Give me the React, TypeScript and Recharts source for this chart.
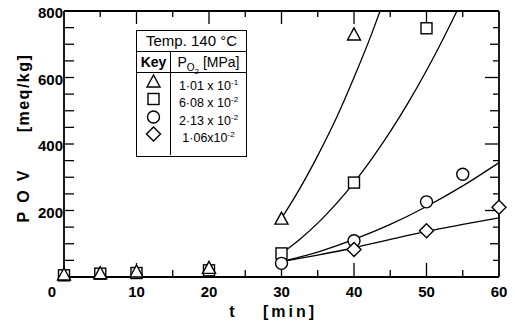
import { ComposedChart, Line, Scatter, XAxis, YAxis } from 'recharts';

const FONT = '"Liberation Sans", Arial, sans-serif';

const xTicks = [0, 10, 20, 30, 40, 50, 60];
const yLabels = [200, 400, 600, 800];
// positions of the small inward ticks on the frame
const xTickPos = [5, 10, 15, 20, 25, 30, 35, 40, 45, 50, 55];
const yTickPos = [50, 100, 150, 200, 250, 300, 350, 400, 450, 500, 550, 600, 650, 700, 750];

// measured points, POV [meq/kg] vs t [min]
const triangle = [
  { t: 0, v: 6 }, { t: 5, v: 10 }, { t: 10, v: 15 }, { t: 20, v: 26 },
  { t: 30, v: 174 }, { t: 40, v: 728 },
];
const square = [
  { t: 0, v: 5 }, { t: 5, v: 10 }, { t: 10, v: 12 }, { t: 20, v: 20 },
  { t: 30, v: 71 }, { t: 40, v: 284 }, { t: 50, v: 748 },
];
const circle = [
  { t: 30, v: 41 }, { t: 40, v: 109 }, { t: 50, v: 226 }, { t: 55, v: 309 },
];
const diamond = [
  { t: 40, v: 83 }, { t: 50, v: 139 }, { t: 60, v: 210 },
];

// drawn-in curves (the two steep ones leave the frame at the top)
const curveTri = [
  { t: 30, v: 176 }, { t: 32.5, v: 265 }, { t: 35, v: 365 }, { t: 37.5, v: 475 },
  { t: 40, v: 600 }, { t: 42.5, v: 735 }, { t: 43.6, v: 800 },
];
const curveSq = [
  { t: 30, v: 71 }, { t: 32.5, v: 113 }, { t: 35, v: 162 }, { t: 37.5, v: 219 },
  { t: 40, v: 284 }, { t: 42.5, v: 357 }, { t: 45, v: 437 }, { t: 47.5, v: 525 },
  { t: 50, v: 621 }, { t: 52.5, v: 725 }, { t: 54.2, v: 800 },
];
const curveCirc = [
  { t: 30, v: 46 }, { t: 35, v: 75 }, { t: 40, v: 113 }, { t: 45, v: 158 },
  { t: 50, v: 212 }, { t: 55, v: 274 }, { t: 60, v: 344 },
];
const curveDia = [
  { t: 30, v: 46 }, { t: 35, v: 66 }, { t: 40, v: 88 }, { t: 45, v: 113 },
  { t: 50, v: 137 }, { t: 55, v: 158 }, { t: 60, v: 178 },
];

const keyRows = [
  { shape: 'triangle', mant: '1·01 x 10', exp: '-1' },
  { shape: 'square', mant: '6·08 x 10', exp: '-2' },
  { shape: 'circle', mant: '2·13 x 10', exp: '-2' },
  { shape: 'diamond', mant: '1·06x10', exp: '-2' },
];

const X_MAX = 60;
const Y_MAX = 800;
// axis units per screen pixel, used only for the tick-mark lengths
const PX_Y = Y_MAX / 266;
const PX_X = X_MAX / 435;

const frameTop = [{ t: 0, v: Y_MAX }, { t: X_MAX, v: Y_MAX }];
const frameRight = [{ t: X_MAX, v: Y_MAX }, { t: X_MAX, v: 0 }];

// every tick mark is its own two-point segment
const tickSegs: { id: string; pts: { t: number; v: number }[] }[] = [];
xTickPos.forEach(t => {
  const major = t % 10 === 0;
  tickSegs.push({ id: `b${t}`, pts: [{ t, v: 0 }, { t, v: (major ? 14 : 7) * PX_Y }] });
  tickSegs.push({ id: `t${t}`, pts: [{ t, v: Y_MAX }, { t, v: Y_MAX - (major ? 13 : 6) * PX_Y }] });
});
yTickPos.forEach(v => {
  const len = v % 200 === 0 ? 14 : v % 100 === 0 ? 9 : 6;
  tickSegs.push({ id: `l${v}`, pts: [{ t: 0, v }, { t: 10 * PX_X, v }] });
  tickSegs.push({ id: `r${v}`, pts: [{ t: X_MAX, v }, { t: X_MAX - len * PX_X, v }] });
});

const mark = (kind: string, cx: number, cy: number) => {
  const p = { fill: '#fff', stroke: '#000', strokeWidth: 1.4 };
  if (kind === 'triangle')
    return <polygon {...p} points={`${cx},${cy - 7} ${cx - 6.5},${cy + 5} ${cx + 6.5},${cy + 5}`} />;
  if (kind === 'square') return <rect {...p} x={cx - 5.5} y={cy - 5.5} width={11} height={11} />;
  if (kind === 'circle') return <circle {...p} cx={cx} cy={cy} r={6} />;
  return <polygon {...p} points={`${cx},${cy - 7} ${cx + 7},${cy} ${cx},${cy + 7} ${cx - 7},${cy}`} />;
};

const shapeOf = (kind: string) => (props: any) => mark(kind, props.cx, props.cy);

const txt = { fontFamily: FONT, fontSize: 15, fontWeight: 'bold' as const, fill: '#000' };

const BottomTick = (props: any) => {
  const { x, y, payload } = props;
  const v = payload.value;
  return (
    <text {...txt} x={v === 0 ? x - 12 : x} y={y + 20} textAnchor="middle">
      {v}
    </text>
  );
};

const LeftTick = (props: any) => {
  const { x, y, payload } = props;
  return (
    <text {...txt} x={x - 1} y={y + 2} dy="0.35em" textAnchor="end">
      {payload.value}
    </text>
  );
};

const KeyTable = () => {
  const cell = { borderRight: '1.5px solid #000', width: 33, display: 'flex', alignItems: 'center', justifyContent: 'center' } as const;
  return (
    <div
      style={{
        position: 'absolute', left: 136, top: 30, width: 111, height: 127, boxSizing: 'border-box',
        border: '1.5px solid #000', fontFamily: FONT, fontSize: 15, color: '#000', background: '#fff',
      }}
    >
      <div style={{ height: 20, borderBottom: '1.5px solid #000', textAlign: 'center', lineHeight: '20px' }}>
        Temp. 140 °C
      </div>
      <div style={{ height: 20, borderBottom: '1.5px solid #000', display: 'flex' }}>
        <div style={{ ...cell, fontWeight: 'bold', fontSize: 14 }}>Key</div>
        <div style={{ flex: 1, textAlign: 'center', lineHeight: '20px', fontSize: 14 }}>
          P<sub style={{ fontSize: 10 }}>O<sub style={{ fontSize: 8 }}>2</sub></sub> [MPa]
        </div>
      </div>
      <div style={{ display: 'flex', height: 82 }}>
        <div style={{ ...cell, flexDirection: 'column', justifyContent: 'flex-start' }}>
          {keyRows.map(r => (
            <svg key={r.shape} width={33} height={17.3}>
              {mark(r.shape, 16.5, 9)}
            </svg>
          ))}
        </div>
        <div style={{ flex: 1 }}>
          {keyRows.map(r => (
            <div key={r.shape} style={{ height: 17.3, lineHeight: '19px', textAlign: 'center', fontSize: 12.5 }}>
              {r.mant}
              <sup style={{ fontSize: 8 }}>{r.exp}</sup>
            </div>
          ))}
        </div>
      </div>
    </div>
  );
};

const series = { xAxisId: 'b', yAxisId: 'l', isAnimationActive: false };

export default function App() {
  return (
    <div style={{ position: 'absolute', left: 0, top: 0, width: 515, height: 322, background: '#fff' }}>
      <ComposedChart width={515} height={322} margin={{ top: 11, right: 16, left: 14, bottom: 15 }}>
        <XAxis
          xAxisId="b"
          dataKey="t"
          type="number"
          domain={[0, X_MAX]}
          ticks={xTicks}
          interval={0}
          tickSize={0}
          tickMargin={0}
          tickLine={false}
          height={30}
          tick={BottomTick}
          axisLine={{ stroke: '#000', strokeWidth: 1.8 }}
          label={{
            content: (p: any) => {
              const vb = p.viewBox;
              return (
                <g>
                  <text {...txt} fontSize={16} x={vb.x + 168} y={317} textAnchor="middle">t</text>
                  <text {...txt} fontSize={16} x={vb.x + 199} y={317} letterSpacing={3}>[min]</text>
                </g>
              );
            },
          }}
        />
        <YAxis
          yAxisId="l"
          type="number"
          domain={[0, Y_MAX]}
          ticks={yLabels}
          interval={0}
          tickSize={0}
          tickMargin={0}
          tickLine={false}
          width={50}
          tick={LeftTick}
          axisLine={{ stroke: '#000', strokeWidth: 1.8 }}
          label={{
            content: () => {
              const cx = 23;
              return (
                <g>
                  <text {...txt} fontSize={16} x={cx} y={192} textAnchor="middle" dy="0.35em" letterSpacing={9}
                    transform={`rotate(-90 ${cx} 192)`}>
                    POV
                  </text>
                  <text {...txt} fontSize={16} x={cx} y={93} textAnchor="middle" dy="0.35em" letterSpacing={1.5}
                    transform={`rotate(-90 ${cx} 93)`}>
                    [meq/kg]
                  </text>
                </g>
              );
            },
          }}
        />
        <Line {...series} data={frameTop} dataKey="v" type="linear" stroke="#000" strokeWidth={1.8} dot={false} />
        <Line {...series} data={frameRight} dataKey="v" type="linear" stroke="#000" strokeWidth={1.8} dot={false} />
        {tickSegs.map(s => (
          <Line key={s.id} {...series} data={s.pts} dataKey="v" type="linear" stroke="#000" strokeWidth={1.3} dot={false} activeDot={false} />
        ))}
        <Line {...series} data={curveTri} dataKey="v" type="monotone" stroke="#000" strokeWidth={1.3} dot={false} />
        <Line {...series} data={curveSq} dataKey="v" type="monotone" stroke="#000" strokeWidth={1.3} dot={false} />
        <Line {...series} data={curveCirc} dataKey="v" type="monotone" stroke="#000" strokeWidth={1.3} dot={false} />
        <Line {...series} data={curveDia} dataKey="v" type="monotone" stroke="#000" strokeWidth={1.3} dot={false} />
        <Scatter {...series} data={square} dataKey="v" shape={shapeOf('square')} />
        <Scatter {...series} data={triangle} dataKey="v" shape={shapeOf('triangle')} />
        <Scatter {...series} data={circle} dataKey="v" shape={shapeOf('circle')} />
        <Scatter {...series} data={diamond} dataKey="v" shape={shapeOf('diamond')} />
      </ComposedChart>
      <KeyTable />
    </div>
  );
}
